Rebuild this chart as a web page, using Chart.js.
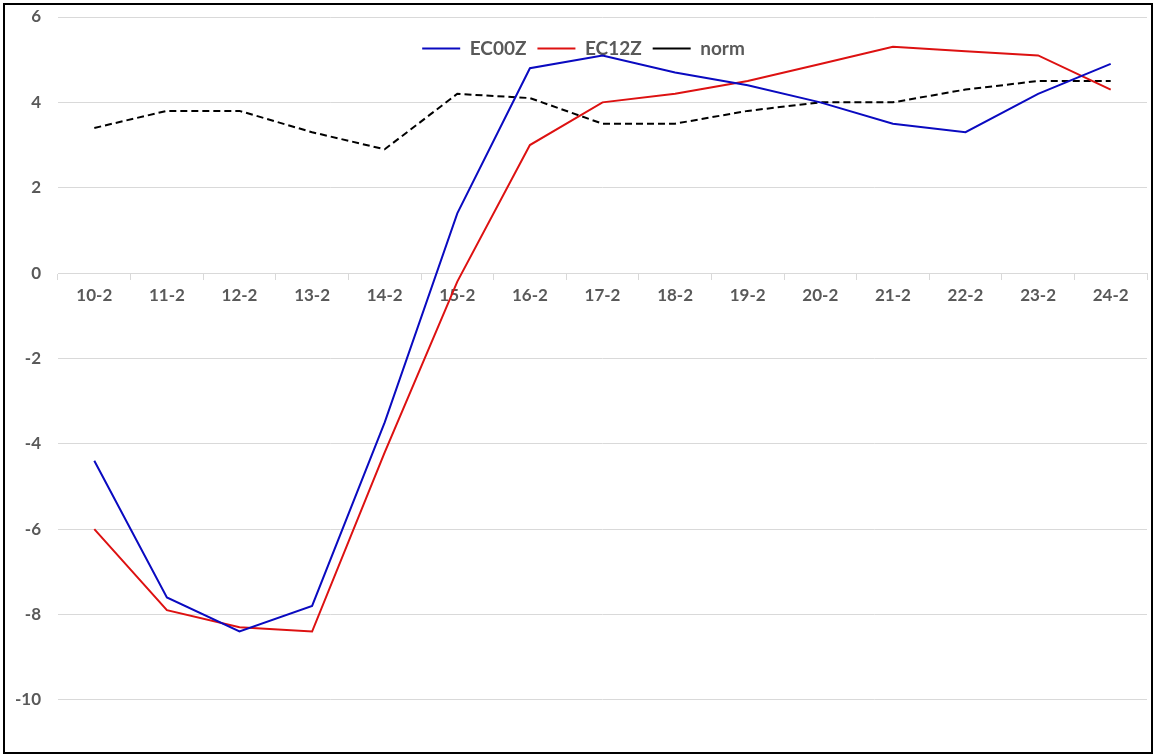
<!DOCTYPE html>
<html>
<head>
<meta charset="utf-8">
<script src="https://cdn.jsdelivr.net/npm/chart.js@4.4.1/dist/chart.umd.min.js"></script>
<style>
  html, body { margin: 0; padding: 0; background: #ffffff; }
  #wrap { position: relative; width: 1156px; height: 756px; }
  #frame { position: absolute; left: 3px; top: 3px; width: 1146px; height: 747px; border: 2px solid #000; pointer-events: none; }
</style>
</head>
<body>
<div id="wrap">
  <canvas id="c" width="1156" height="756"></canvas>
  <div id="frame"></div>
</div>
<script>
const categories = ['10-2','11-2','12-2','13-2','14-2','15-2','16-2','17-2','18-2','19-2','20-2','21-2','22-2','23-2','24-2'];
const ec00z = [-4.4, -7.6, -8.4, -7.8, -3.5, 1.4, 4.8, 5.1, 4.7, 4.4, 4.0, 3.5, 3.3, 4.2, 4.9];
const ec12z = [-6.0, -7.9, -8.3, -8.4, -4.2, -0.2, 3.0, 4.0, 4.2, 4.5, 4.9, 5.3, 5.2, 5.1, 4.3];
const norm  = [3.4, 3.8, 3.8, 3.3, 2.9, 4.2, 4.1, 3.5, 3.5, 3.8, 4.0, 4.0, 4.3, 4.5, 4.5];
const seriesNames = ['EC00Z', 'EC12Z', 'norm'];
const yMin = -11.2, yMax = 6, yStep = 2;

const labelColor = '#595959';
const gridColor = '#d9d9d9';
const fontFamily = 'Lato, Calibri, "Open Sans", sans-serif';

const legendOverlay = {
  id: 'legendOverlay',
  beforeInit(chart) {
    const lg = chart.legend;
    const origFit = lg.fit;
    lg.fit = function () {
      origFit.call(this);
      this._realH = this.height;
      this.height = 0;
    };
  },
  afterLayout(chart) {
    const lg = chart.legend;
    lg.top = 28;
    lg.height = lg._realH;
    lg.bottom = lg.top + lg.height;
    lg.left += 10;
    lg.right += 10;
  }
};

new Chart(document.getElementById('c'), {
  type: 'line',
  data: {
    labels: categories,
    datasets: [
      { label: seriesNames[0], data: ec00z, borderColor: '#0a0ac0', backgroundColor: '#0a0ac0', borderWidth: 2, pointRadius: 0, pointStyle: 'line', tension: 0 },
      { label: seriesNames[1], data: ec12z, borderColor: '#dd1111', backgroundColor: '#dd1111', borderWidth: 2, pointRadius: 0, pointStyle: 'line', tension: 0 },
      { label: seriesNames[2], data: norm, borderColor: '#000000', backgroundColor: '#000000', borderWidth: 2, borderDash: [7, 4], pointRadius: 0, pointStyle: 'line', tension: 0 }
    ]
  },
  options: {
    responsive: false,
    animation: false,
    layout: { padding: { top: 17, left: 0, right: 9, bottom: 5 } },
    plugins: {
      tooltip: { enabled: false },
      legend: {
        display: true,
        position: 'top',
        labels: {
          usePointStyle: true,
          pointStyleWidth: 38,
          boxHeight: 2,
          padding: 11,
          color: labelColor,
          font: { family: fontFamily, size: 19, weight: 'bold' }
        }
      }
    },
    scales: {
      x: {
        type: 'category',
        position: { y: 0 },
        offset: true,
        grid: { drawOnChartArea: false, drawTicks: true, tickLength: 6, color: gridColor, offset: true },
        border: { display: true, color: gridColor, width: 1 },
        ticks: { color: labelColor, padding: 6, maxRotation: 0, autoSkip: false, font: { family: fontFamily, size: 17, weight: 'bold' } }
      },
      y: {
        min: yMin,
        max: yMax,
        grid: { color: gridColor, drawTicks: false, lineWidth: 1 },
        border: { display: false },
        ticks: { stepSize: yStep, includeBounds: false, color: labelColor, padding: 17, font: { family: fontFamily, size: 17, weight: 'bold' } },
        afterFit(scale) { scale.width = 58; scale.paddingTop = 0; scale.paddingBottom = 0; }
      }
    }
  },
  plugins: [legendOverlay]
});
</script>
</body>
</html>
